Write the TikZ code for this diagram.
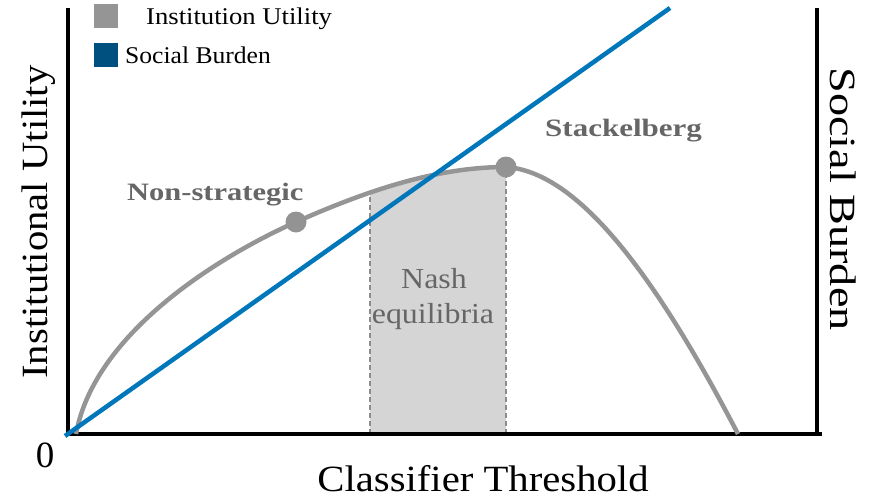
\documentclass[tikz,border=0pt]{standalone}
\usepackage{fontspec}
\setmainfont{Liberation Serif}
\definecolor{curvegray}{HTML}{959595}
\definecolor{lineblue}{HTML}{0077BB}
\definecolor{legblue}{HTML}{00507F}
\definecolor{bandgray}{HTML}{D5D5D5}
\definecolor{textgray}{HTML}{666666}
\definecolor{dotgray}{HTML}{939393}
\definecolor{dashgray}{HTML}{8C8C8C}
\newcommand{\utilpath}{(76,434) .. controls (95,330) and (226,253) .. (296,222) .. controls (366,191) and (436,167) .. (506,167) .. controls (575,172) and (650,265) .. (738,434)}
\begin{document}
\begin{tikzpicture}[x=1pt,y=-1pt,
  axisline/.style={line width=4.5pt,black},
  utilcurve/.style={line width=4.5pt,curvegray},
  burdenline/.style={line width=4.5pt,lineblue},
  bandedge/.style={line width=2pt,dashgray,dash pattern=on 5pt off 3pt},
  dotnode/.style={circle,fill=dotgray,inner sep=0pt,minimum size=21pt},
  legsq/.style={inner sep=0pt,minimum size=24pt},
  labeltext/.style={font=\bfseries\fontsize{25}{25}\selectfont,text=textgray,inner sep=0pt},
  nashtext/.style={font=\fontsize{29}{29}\selectfont,text=textgray,inner sep=0pt},
  legtext/.style={font=\fontsize{24}{24}\selectfont,inner sep=0pt},
  axistext/.style={font=\fontsize{37}{37}\selectfont,inner sep=0pt}]
\useasboundingbox (0,0) rectangle (877,498);
% band
\begin{scope}
  \clip \utilpath -- cycle;
  \fill[bandgray] (370,100) rectangle (506,434);
  \draw[bandedge] (370,434) -- (370,100);
  \draw[bandedge] (506,434) -- (506,100);
\end{scope}
% axes
\draw[axisline] (68,8) -- (68,434) -- (822,434);
\draw[axisline] (817,8) -- (817,436);
% curves
\draw[utilcurve] \utilpath;
\coordinate (b0) at (65,436);
\coordinate (b1) at (670,8);
\draw[burdenline] (b0) -- (b1);
\node[dotnode] (ns) at (296,222) {};
\node[dotnode] (st) at (506,167) {};
% labels
\node[labeltext,anchor=base west] (nsl) at (127,200) {\scalebox{1.22}[1]{Non-strategic}};
\node[labeltext,anchor=base west] (stl) at (545,136) {\scalebox{1.24}[1]{Stackelberg}};
\node[nashtext,anchor=base] (nash) at (434,288) {\scalebox{1.1}[1]{Nash}};
\node[nashtext,anchor=base] (eq) at (433,323) {\scalebox{1.1}[1]{equilibria}};
% legend
\node[legsq,fill=curvegray] (lg1) at (105.5,16) {};
\node[legsq,fill=legblue] (lg2) at (105.5,55) {};
\node[legtext,anchor=base west] (lt1) at (146,24) {\scalebox{1.11}[1]{Institution Utility}};
\node[legtext,anchor=base west] (lt2) at (125,63) {\scalebox{1.066}[1]{Social Burden}};
% axis labels
\node[axistext,anchor=base] (zero) at (45,467) {0};
\node[axistext,anchor=base] (xl) at (483,491) {\scalebox{1.1}[1]{Classifier Threshold}};
\node[axistext,anchor=base,rotate=90] (yl) at (47,222) {\scalebox{1.1}[1]{Institutional Utility}};
\node[axistext,anchor=base,rotate=-90] (yr) at (830,199) {\scalebox{1.25}[1]{Social Burden}};
\end{tikzpicture}
\end{document}
